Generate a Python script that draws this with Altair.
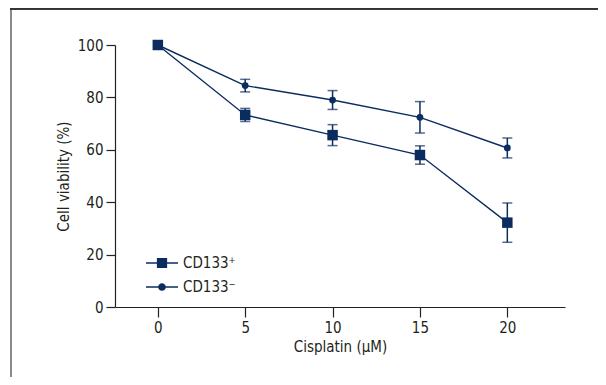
import altair as alt
import pandas as pd

series = ["CD133⁺", "CD133⁻"]
doses = [0, 5, 10, 15, 20]
pos_mean = [100, 73.3, 65.6, 58.0, 32.2]
pos_sd = [0, 2.5, 4.0, 3.5, 7.5]
neg_mean = [100, 84.5, 79.0, 72.4, 60.7]
neg_sd = [0, 2.4, 3.6, 6.0, 3.8]
x_ticks = [0, 5, 10, 15, 20]
y_ticks = [0, 20, 40, 60, 80, 100]

rows = []
for name, means, sds in [(series[1], neg_mean, neg_sd), (series[0], pos_mean, pos_sd)]:
    for d, m, s in zip(doses, means, sds):
        rows.append({"series": name, "dose": d, "mean": m, "lo": m - s, "hi": m + s, "sd": s})
df = pd.DataFrame(rows)

NAVY = "#0b2c5f"
TEXT = "#231f20"
FONT = "'Liberation Sans Narrow', 'DejaVu Sans Condensed', 'Roboto', sans-serif"

SQ_PATH = "M-1,-0.045H1V0.045H-1Z M-0.32,-0.32H0.32V0.32H-0.32Z"
CI_PATH = ("M-1,-0.045H1V0.045H-1Z M0.24,0 A0.24,0.24 0 1,1 -0.24,0 "
           "A0.24,0.24 0 1,1 0.24,0 Z")

xenc = alt.X(
    "dose:Q",
    scale=alt.Scale(domain=[-2.45, 23.3], nice=False, zero=False),
    axis=alt.Axis(values=x_ticks, title="Cisplatin (µM)", grid=False,
                  tickSize=10, labelPadding=3, titlePadding=4),
)
yenc = alt.Y(
    "mean:Q",
    scale=alt.Scale(domain=[0, 100], nice=False),
    axis=alt.Axis(values=y_ticks, title="Cell viability (%)", grid=False,
                  tickSize=9, labelPadding=3, titlePadding=6),
)

base = alt.Chart(df)

lines = base.mark_line(color=NAVY, strokeWidth=1.4).encode(
    x=xenc, y=yenc, detail="series:N"
)

err = base.transform_filter("datum.sd > 0")
err_rule = err.mark_rule(color=NAVY, strokeWidth=1.5).encode(
    x="dose:Q", y="lo:Q", y2="hi:Q"
)
cap_lo = err.mark_tick(color=NAVY, orient="horizontal", size=10, thickness=1.5).encode(
    x="dose:Q", y="lo:Q"
)
cap_hi = err.mark_tick(color=NAVY, orient="horizontal", size=10, thickness=1.5).encode(
    x="dose:Q", y="hi:Q"
)

legend = alt.Legend(
    title=None,
    orient="none",
    legendX=31,
    legendY=202,
    padding=0,
    labelFont=FONT,
    labelFontSize=15,
    labelColor=TEXT,
    labelOffset=5,
    rowPadding=-5,
    symbolSize=1024,
    symbolStrokeWidth=0,
    symbolFillColor=NAVY,
    symbolOpacity=1,
)

legend_layer = base.transform_filter("false").mark_point(
    filled=True, opacity=1, color=NAVY, size=1024
).encode(
    x="dose:Q",
    y="mean:Q",
    shape=alt.Shape("series:N", scale=alt.Scale(domain=series, range=[SQ_PATH, CI_PATH]),
                    legend=legend),
)

pts_neg = base.transform_filter(f"datum.series === '{series[1]}'").mark_point(
    filled=True, opacity=1, color=NAVY, shape="circle", size=46
).encode(x="dose:Q", y="mean:Q")
pts_pos = base.transform_filter(f"datum.series === '{series[0]}'").mark_point(
    filled=True, opacity=1, color=NAVY, shape="square", size=110
).encode(x="dose:Q", y="mean:Q")

frame_left = base.mark_rule(color="#8a8a8a", strokeWidth=2).encode(
    x=alt.value(-104), y=alt.value(-37), y2=alt.value(335)
)
frame_top = base.mark_rule(color="#333333", strokeWidth=1.2).encode(
    x=alt.value(-105), x2=alt.value(490), y=alt.value(-36.4)
)

chart = alt.layer(frame_left, frame_top, lines, err_rule, cap_lo, cap_hi,
                  legend_layer, pts_neg, pts_pos).properties(
    width=450,
    height=262,
    autosize=alt.AutoSizeParams(type="none"),
    padding={"left": 107, "top": 37, "right": 33, "bottom": 70},
).configure_view(stroke=None).configure_axis(
    domainColor="#222222",
    tickColor="#222222",
    domainWidth=1.2,
    tickWidth=1.2,
    labelFont=FONT,
    labelFontSize=15,
    labelColor=TEXT,
    titleFont=FONT,
    titleFontSize=15,
    titleFontWeight="normal",
    titleColor=TEXT,
)

chart.save("out.html", embed_options={"renderer": "svg", "actions": False})
